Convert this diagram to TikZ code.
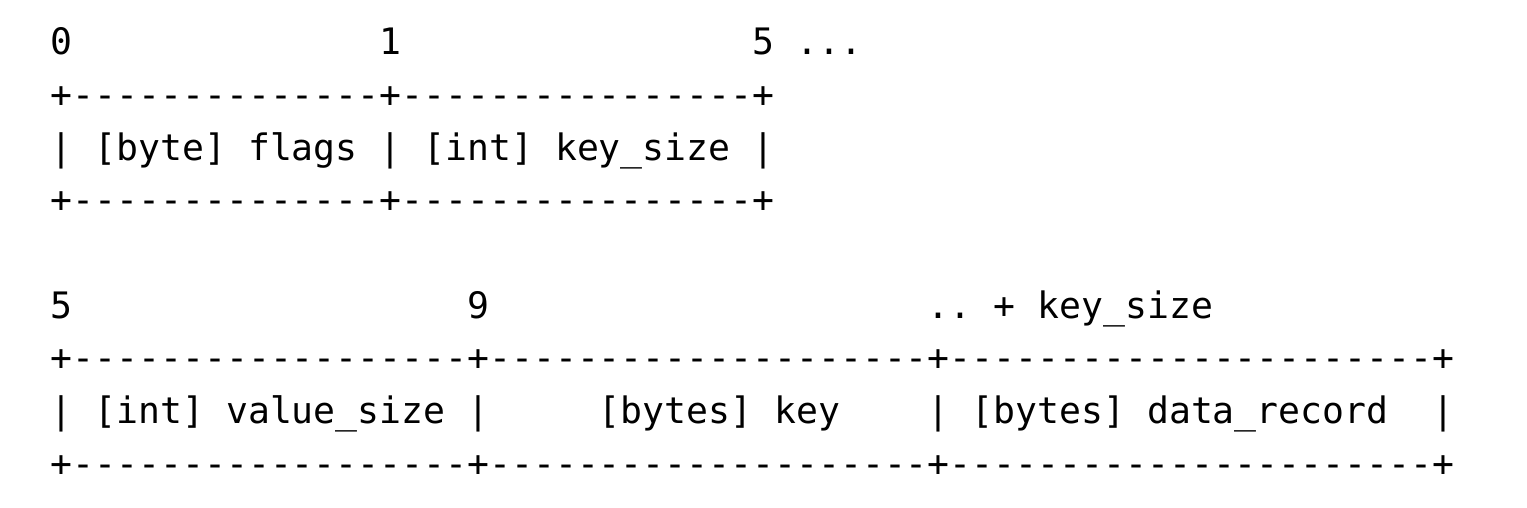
\documentclass[tikz,border=0pt]{standalone}
\usepackage{fontspec}
\setmonofont{DejaVu Sans Mono}
\begin{document}
\begin{tikzpicture}[x=21.93pt,y=-52.66pt,
  txt/.style={inner sep=0pt,outer sep=0pt,anchor=base west,text=black,
    font=\ttfamily\fontsize{36.43pt}{40pt}\selectfont}]
\useasboundingbox[fill=white] (-2.312,-1.0444) rectangle (67.32,8.602);
% block 1
\node[txt] (o0) at (0,0) {0};
\node[txt] (o1) at (15,0) {1};
\node[txt] (o5) at (32,0) {5 ...};
\node[txt] (b1top) at (0,1) {+--------------+----------------+};
\node[txt] (b1row) at (0,2) {| [byte] flags | [int] key\_size |};
\node[txt] (b1bot) at (0,3) {+--------------+----------------+};
% block 2
\node[txt] (p5) at (0,5) {5};
\node[txt] (p9) at (19,5) {9};
\node[txt] (pk) at (40,5) {.. + key\_size};
\node[txt] (b2top) at (0,6) {+------------------+--------------------+----------------------+};
\node[txt] (c1) at (0,7) {| [int] value\_size |};
\node[txt] (c2) at (25,7) {[bytes] key};
\node[txt] (c3) at (40,7) {| [bytes] data\_record};
\node[txt] (c4) at (63,7) {|};
\node[txt] (b2bot) at (0,8) {+------------------+--------------------+----------------------+};
\end{tikzpicture}
\end{document}
